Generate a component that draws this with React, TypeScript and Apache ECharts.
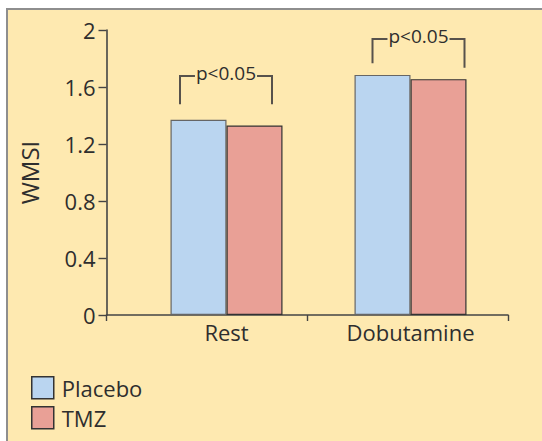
import React, { useEffect, useRef } from "react";
import * as echarts from "echarts";

const categories = ["Rest", "Dobutamine"];
const placebo = [1.37, 1.685];
const tmz = [1.33, 1.655];
const yTicks = [0, 0.4, 0.8, 1.2, 1.6, 2];
const seriesNames = ["Placebo", "TMZ"];
const bracketLabel = "p<0.05";
const bracketTop = [1.677, 1.937];
const bracketLeftEnd = [1.479, 1.766];
const bracketRightEnd = [1.479, 1.735];

// pixel offsets of bracket legs from category centre (styling)
const bracketLegs = [
  [-46.5, 45.5],
  [-38, 54],
];

const BG = "#FEE9B0";
const TEXT = "#2e2e2e";
const FONT = "Open Sans";

export default function App() {
  const ref = useRef<HTMLDivElement>(null);
  useEffect(() => {
    if (!ref.current) return;
    const chart = echarts.init(ref.current, undefined, { renderer: "svg" });
    const top = 30;
    const bottom = 441 - 315;
    const option: any = {
      animation: false,
      backgroundColor: "#ffffff",
      textStyle: { fontFamily: FONT, color: TEXT },
      graphic: {
        elements: [
          {
            type: "rect",
            z: -10,
            shape: { x: 7, y: 9, width: 600, height: 500 },
            style: { fill: BG, stroke: "#8e8e8e", lineWidth: 2 },
          },
        ],
      },
      grid: [
        { left: 106.5, right: 34, top, bottom, containLabel: false },
        { left: 134.5, right: 39.5, top, bottom, containLabel: false },
      ],
      xAxis: [
        {
          type: "category",
          gridIndex: 0,
          data: categories,
          axisLine: { lineStyle: { color: "#444", width: 1.6 } },
          axisTick: { show: true, length: 6, lineStyle: { color: "#444", width: 1.4 } },
          axisLabel: { show: false },
        },
        {
          type: "category",
          gridIndex: 1,
          data: categories,
          axisLine: { show: false },
          axisTick: { show: false },
          axisLabel: { fontSize: 22, color: TEXT, fontFamily: FONT, margin: 6 },
        },
      ],
      yAxis: [
        {
          type: "value",
          gridIndex: 0,
          min: 0,
          max: 2,
          interval: 0.4,
          name: "WMSI",
          nameLocation: "middle",
          nameRotate: 90,
          nameGap: 65,
          nameTextStyle: { fontSize: 24, color: TEXT, fontFamily: FONT },
          splitLine: { show: false },
          axisLine: { show: true, lineStyle: { color: "#444", width: 1.6 } },
          axisTick: { show: true, length: 8, lineStyle: { color: "#444", width: 1.4 } },
          axisLabel: {
            fontSize: 22,
            color: TEXT,
            fontFamily: FONT,
            margin: 11,
            formatter: (v: number) => {
              const t = yTicks.find((x) => Math.abs(x - v) < 1e-9);
              return t === undefined ? "" : String(t);
            },
          },
        },
        {
          type: "value",
          gridIndex: 1,
          min: 0,
          max: 2,
          interval: 0.4,
          show: false,
          splitLine: { show: false },
        },
      ],
      legend: {
        orient: "vertical",
        left: 26,
        top: 371,
        itemWidth: 22,
        itemHeight: 22,
        itemGap: 6.5,
        icon: "rect",
        data: seriesNames,
        textStyle: { fontSize: 22, color: TEXT, fontFamily: FONT, padding: [0, 0, 0, 3] },
        itemStyle: { borderColor: "#333", borderWidth: 1.5 },
      },
      series: [
        {
          name: seriesNames[0],
          type: "bar",
          xAxisIndex: 1,
          yAxisIndex: 1,
          data: placebo,
          barWidth: 56,
          barGap: "0%",
          itemStyle: { color: "#BAD5F0", borderColor: "#666", borderWidth: 1.2 },
        },
        {
          name: seriesNames[1],
          type: "bar",
          xAxisIndex: 1,
          yAxisIndex: 1,
          data: tmz,
          barWidth: 56,
          barGap: "0%",
          itemStyle: { color: "#E9A096", borderColor: "#333", borderWidth: 1.2 },
        },
        {
          type: "custom",
          xAxisIndex: 1,
          yAxisIndex: 1,
          silent: true,
          z: 5,
          data: categories.map((c, i) => [i, bracketTop[i], bracketLeftEnd[i], bracketRightEnd[i]]),
          renderItem: (params: any, api: any) => {
            const i = api.value(0);
            const center = api.coord([i, 0])[0];
            const yTop = api.coord([i, api.value(1)])[1];
            const yL = api.coord([i, api.value(2)])[1];
            const yR = api.coord([i, api.value(3)])[1];
            const legs = bracketLegs[params.dataIndex];
            const xl = center + legs[0];
            const xr = center + legs[1];
            return {
              type: "group",
              children: [
                {
                  type: "polyline",
                  shape: { points: [[xl, yL], [xl, yTop], [xr, yTop], [xr, yR]] },
                  style: { stroke: "#57524c", lineWidth: 2, fill: null },
                },
                {
                  type: "text",
                  style: {
                    text: bracketLabel,
                    x: (xl + xr) / 2,
                    y: yTop - 3,
                    align: "center",
                    verticalAlign: "middle",
                    fontSize: 19,
                    fontFamily: FONT,
                    fill: TEXT,
                    backgroundColor: BG,
                    padding: [0, 1],
                  },
                },
              ],
            };
          },
        },
      ],
    };
    chart.setOption(option);
    return () => chart.dispose();
  }, []);
  return (
    <div
      ref={ref}
      style={{ position: "absolute", left: 0, top: 0, width: 542, height: 441 }}
    />
  );
}
